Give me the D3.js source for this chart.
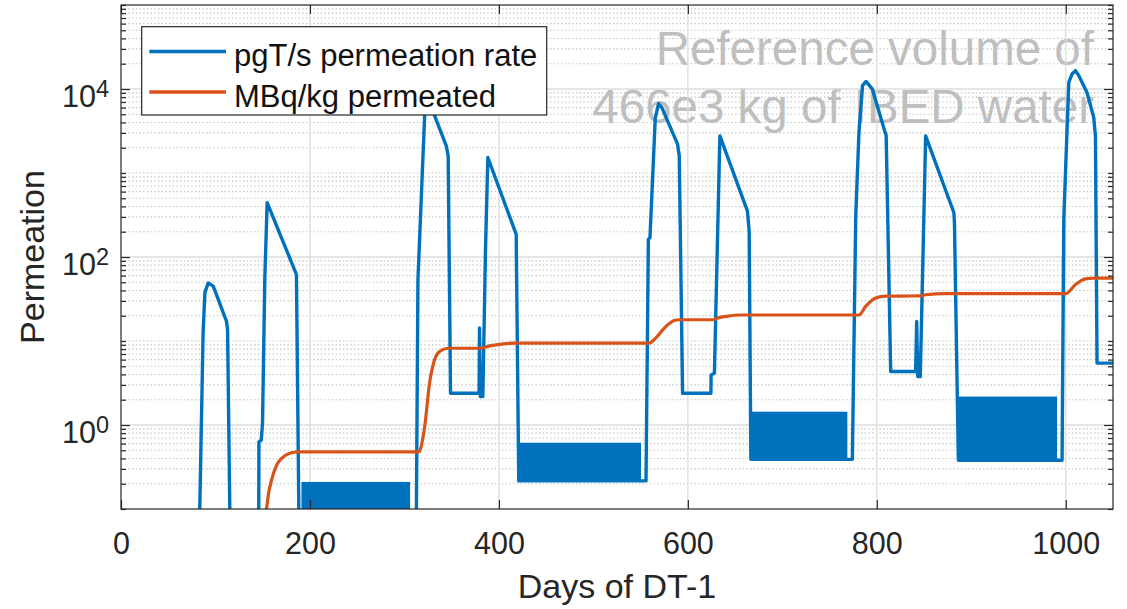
<!DOCTYPE html>
<html><head><meta charset="utf-8">
<script src="https://cdn.jsdelivr.net/npm/d3@7"></script>
<style>
body{margin:0;background:#fff;}
svg{display:block;font-family:"Liberation Sans",Arial,Helvetica,sans-serif;}
</style></head><body>
<svg id="chart" width="1127" height="609"></svg>
<script>
// Permeation rate through the first DT campaign (pgT/s)
const rateDays = [80, 83.3, 86.9, 88.8, 92.3, 97.6, 111.7, 112.8, 115.2, 118,
  143, 145.8, 146.0, 148.5, 149.8, 152.2, 154.7, 185.0, 185.7, 188.5,
  312.5, 314.3, 321.4, 326.5, 332, 344.3, 346.3, 348.8, 379.0, 379.5, 380.3, 383.0, 385.8, 388.3, 418.3, 421.0,
  555.7, 558.2, 559.9, 565.5, 569, 572.5, 589.1, 590.9, 594.4, 624.4, 624.6, 628.1, 633.9, 663.1, 664.9, 666.7,
  774.1, 777.7, 781.1, 784.9, 788.6, 795.3, 808.2, 809.9, 814.7, 841.1, 842.2, 843.3, 846.0, 851.7, 881.6, 882.2, 886.3,
  996.1, 997.9, 1003.2, 1006.7, 1010.3, 1013.7, 1022.5, 1029.6, 1031.4, 1033.1, 1050];
const rateValues = [0.01, 0.09, 12.6, 37.7, 49, 45, 17.1, 13.6, 0.09, 0.01,
  0.01, 0.09, 0.63, 0.66, 1.06, 54, 444, 64.8, 60, 0.05,
  0.05, 53.9, 4800, 7000, 4800, 2100, 1600, 2.39, 2.39, 14.3, 2.18, 2.18, 122, 1529, 186, 0.216,
  0.216, 162, 170, 4500, 6700, 6000, 2205, 1600, 2.39, 2.39, 3.95, 4.14, 2770, 352, 200, 0.39,
  0.39, 307, 3040, 10960, 12300, 9960, 3200, 2800, 4.33, 4.33, 17.1, 3.77, 3.77, 2770, 336, 250, 0.38,
  0.38, 280, 12000, 15100, 16550, 14500, 9100, 4590, 2770, 5.46, 5.46];

// Rapid-cycling periods: envelope of the oscillating rate
const cycleStart = [191, 421.8, 666.7, 886.9];
const cycleEnd = [306, 550.4, 768.8, 990.8];
const cycleLow = [0.05, 0.216, 0.39, 0.38];
const cycleHigh = [0.21, 0.615, 1.44, 2.18];

// Cumulative activity permeated (MBq/kg)
const permDays = [150, 154, 156.5, 159.3, 164.6, 170, 178.6, 187.4, 315.3, 316.1, 321.4, 326.6, 331.9, 337.2, 346,
  381.3, 389, 397.1, 418.3, 559.2, 564.5, 576.8, 585.6, 590.9, 626.1, 633, 640.3, 654.3,
  781.1, 788.2, 798.8, 809.4, 845, 851.7, 872.8, 999.7, 1010.3, 1020.9, 1030, 1050];
const permValues = [0.05, 0.1, 0.16, 0.22, 0.33, 0.40, 0.46, 0.48, 0.48, 0.49, 0.95, 3.15, 5.97, 7.5, 8.2,
  8.2, 8.7, 9.0, 9.45, 9.45, 10.4, 14.9, 17.5, 17.9, 17.9, 19.0, 19.6, 20.4,
  20.4, 25.8, 32.5, 34.2, 34.4, 35.5, 36.6, 36.6, 47, 55, 56, 56];

const xTicks = [0, 200, 400, 600, 800, 1000];
const yTicks = [1, 100, 10000];
const yTickExponents = ["0", "2", "4"];
const seriesNames = ["pgT/s permeation rate", "MBq/kg permeated"];
const seriesColors = ["#0072BD", "#D95319"];
const noteLines = ["Reference volume of", "466e3 kg of IBED water"];
const xLabel = "Days of DT-1";
const yLabel = "Permeation";

const svg = d3.select("#chart");
const L = 121, R = 1113, T = 5, B = 509;
const axisColor = "#262626";

const x = d3.scaleLinear().domain([0, 1050]).range([L, R]);
const y = d3.scaleLog().domain([0.1, 1e5]).range([B, T]);

svg.append("rect").attr("width", 1127).attr("height", 609).attr("fill", "#fff");

svg.append("defs").append("clipPath").attr("id", "plotClip")
  .append("rect").attr("x", L).attr("y", T).attr("width", R - L).attr("height", B - T);

// Annotation sits beneath grid and data
const note = svg.append("g").attr("fill", "#bfbfbf").attr("font-size", 47.5).attr("text-anchor", "end");
note.selectAll("text").data(noteLines).join("text")
  .attr("x", 1094).attr("y", (d, i) => 65 + i * 58).text(d => d);

// Grid
const allY = y.ticks();
const isMajorY = v => yTicks.some(t => Math.abs(Math.log10(v) - Math.log10(t)) < 1e-9);
const minorY = allY.filter(v => !isMajorY(v) && v > 0.1 * 1.0001 && v < 1e5 * 0.9999);
const grid = svg.append("g");
grid.selectAll("line.minor").data(minorY).join("line").attr("class", "minor")
  .attr("x1", L).attr("x2", R).attr("y1", d => y(d)).attr("y2", d => y(d))
  .attr("stroke", "#bdbdbd").attr("stroke-width", 1.1).attr("stroke-dasharray", "1.3,2.4");
grid.selectAll("line.hmaj").data(yTicks).join("line").attr("class", "hmaj")
  .attr("x1", L).attr("x2", R).attr("y1", d => y(d)).attr("y2", d => y(d))
  .attr("stroke", "#dcdcdc").attr("stroke-width", 1.3);
grid.selectAll("line.vmaj").data(xTicks.filter(d => d > 0)).join("line").attr("class", "vmaj")
  .attr("y1", T).attr("y2", B).attr("x1", d => x(d)).attr("x2", d => x(d))
  .attr("stroke", "#dcdcdc").attr("stroke-width", 1.3);

// Data
const plot = svg.append("g").attr("clip-path", "url(#plotClip)");
const cycles = cycleStart.map((s, i) => ({s, e: cycleEnd[i], lo: cycleLow[i], hi: cycleHigh[i]}));
plot.selectAll("rect.cycle").data(cycles).join("rect").attr("class", "cycle")
  .attr("x", d => x(d.s)).attr("width", d => x(d.e) - x(d.s))
  .attr("y", d => y(d.hi)).attr("height", d => y(d.lo) - y(d.hi))
  .attr("fill", seriesColors[0]);

const line = d3.line().x(d => x(d[0])).y(d => y(d[1]));
plot.append("path").datum(rateDays.map((d, i) => [d, rateValues[i]]))
  .attr("d", line).attr("fill", "none").attr("stroke", seriesColors[0])
  .attr("stroke-width", 3.4).attr("stroke-linejoin", "round");
plot.append("path").datum(permDays.map((d, i) => [d, permValues[i]]))
  .attr("d", d3.line().x(d => x(d[0])).y(d => y(d[1])).curve(d3.curveMonotoneX))
  .attr("fill", "none").attr("stroke", seriesColors[1])
  .attr("stroke-width", 3.2).attr("stroke-linejoin", "round");

// Axes
function styleAxis(g) {
  g.select(".domain").remove();
  g.selectAll(".tick line").attr("stroke", axisColor).attr("stroke-width", 1.2);
  g.selectAll("text").attr("fill", axisColor).attr("font-family", "Liberation Sans, Arial, sans-serif");
}
svg.append("g").attr("transform", `translate(0,${B})`)
  .call(d3.axisBottom(x).tickValues(xTicks).tickSizeInner(-9).tickSizeOuter(0).tickPadding(23)
    .tickFormat(d3.format("d")))
  .call(styleAxis)
  .call(g => g.selectAll("text").attr("font-size", 30.5));
svg.append("g").attr("transform", `translate(0,${T})`)
  .call(d3.axisTop(x).tickValues(xTicks).tickSizeInner(-9).tickSizeOuter(0).tickFormat(""))
  .call(styleAxis);

const minorAll = allY.filter(v => !isMajorY(v));
svg.append("g").attr("transform", `translate(${L},0)`)
  .call(d3.axisLeft(y).tickValues(minorAll).tickSizeInner(-5).tickSizeOuter(0).tickFormat(""))
  .call(styleAxis);
svg.append("g").attr("transform", `translate(${R},0)`)
  .call(d3.axisRight(y).tickValues(minorAll).tickSizeInner(-5).tickSizeOuter(0).tickFormat(""))
  .call(styleAxis);
svg.append("g").attr("transform", `translate(${R},0)`)
  .call(d3.axisRight(y).tickValues(yTicks).tickSizeInner(-9).tickSizeOuter(0).tickFormat(""))
  .call(styleAxis);
const yAx = svg.append("g").attr("transform", `translate(${L},0)`)
  .call(d3.axisLeft(y).tickValues(yTicks).tickSizeInner(-9).tickSizeOuter(0).tickPadding(12).tickFormat(""))
  .call(styleAxis);
yAx.selectAll(".tick text").each(function(d, i) {
  const t = d3.select(this).attr("font-size", 30.5).attr("dy", "0.57em");
  t.append("tspan").text("10");
  t.append("tspan").attr("dy", -9.5).attr("font-size", 23.5).text(yTickExponents[i]);
});

// Frame
svg.append("rect").attr("x", L).attr("y", T).attr("width", R - L).attr("height", B - T)
  .attr("fill", "none").attr("stroke", axisColor).attr("stroke-width", 1.2);

// Axis labels
svg.append("text").attr("x", (L + R) / 2).attr("y", 598).attr("text-anchor", "middle")
  .attr("font-size", 34).attr("fill", axisColor).text(xLabel);
svg.append("text").attr("transform", `translate(44,${(T + B) / 2}) rotate(-90)`)
  .attr("text-anchor", "middle").attr("font-size", 34).attr("fill", axisColor).text(yLabel);

// Legend
const lg = svg.append("g");
lg.append("rect").attr("x", 141.7).attr("y", 26.7).attr("width", 405).attr("height", 88.3)
  .attr("fill", "#fff").attr("stroke", axisColor).attr("stroke-width", 1.2);
seriesNames.forEach((name, i) => {
  const cy = 51.5 + i * 40.5;
  lg.append("line").attr("x1", 149.3).attr("x2", 226).attr("y1", cy).attr("y2", cy)
    .attr("stroke", seriesColors[i]).attr("stroke-width", 3.4);
  lg.append("text").attr("x", 234).attr("y", cy + 14.5).attr("font-size", 31)
    .attr("fill", "#111").text(name);
});
</script>
</body></html>
